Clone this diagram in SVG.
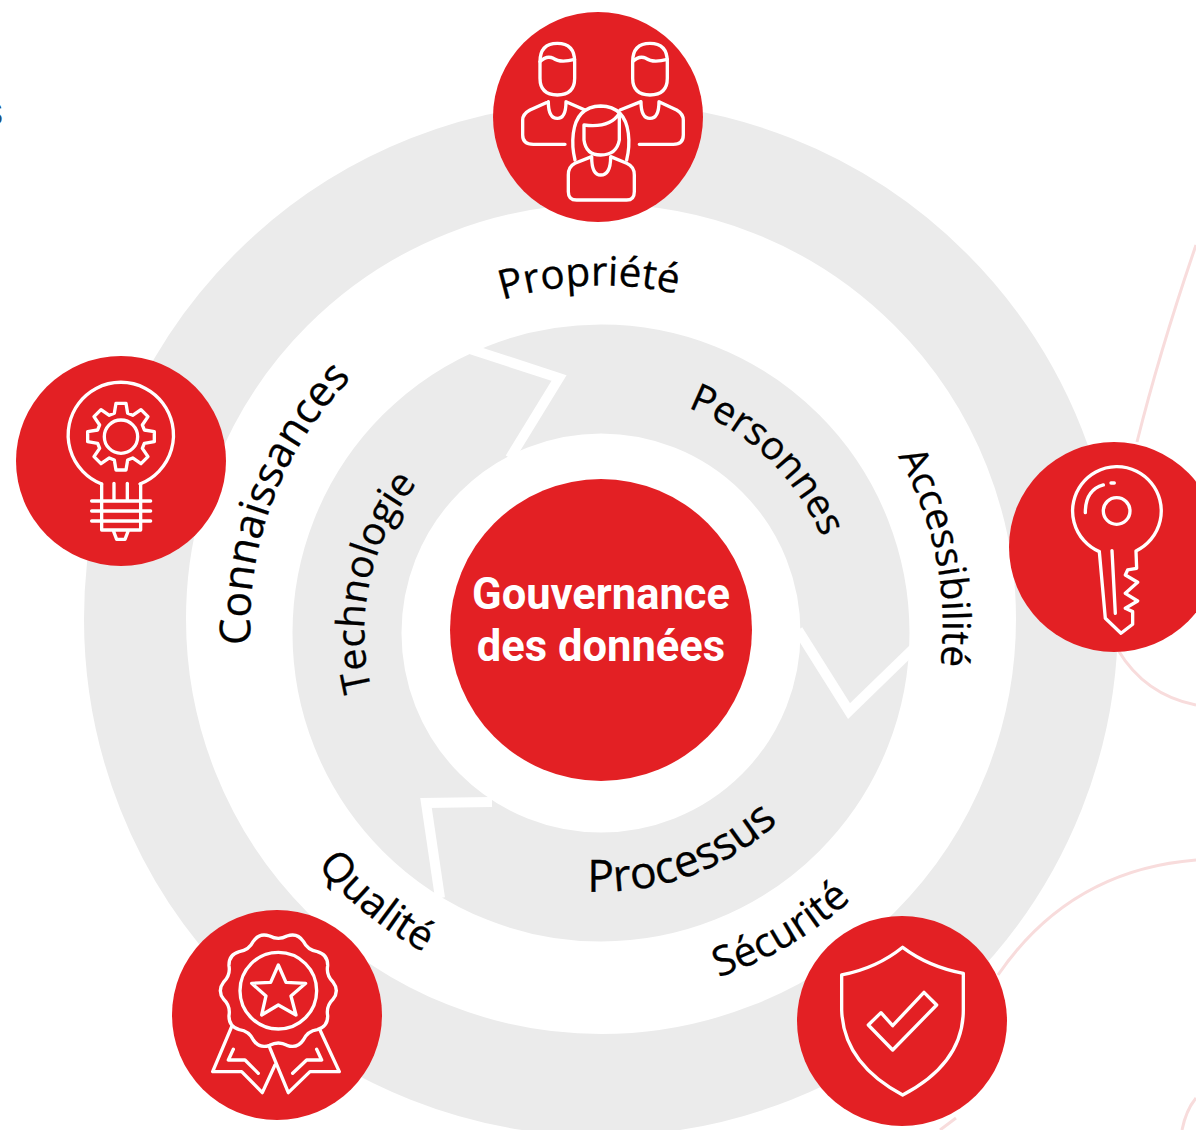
<svg xmlns="http://www.w3.org/2000/svg" width="1196" height="1130" viewBox="0 0 1196 1130">
<style>
.disc{fill:#e32024}
.ic{fill:none;stroke:#fff;stroke-width:10;stroke-linecap:round;stroke-linejoin:round}
.lab{font-family:"Open Sans","Noto Sans",sans-serif;font-size:41px;fill:#000;text-anchor:middle;stroke:#000;stroke-width:.3}
.in{font-size:39px}
.pink{fill:none;stroke:#f8dcdc;stroke-width:3}
.chev{fill:none;stroke:#fff;stroke-width:10;stroke-linejoin:miter}
.ctr{font-family:Roboto,"Liberation Sans",sans-serif;font-weight:700;font-size:43.5px;fill:#fff;text-anchor:middle}
</style>
<defs>
<path id="p1" d="M301 465A340 340 0 0 1 889 445"/>
<path id="p2" d="M325 841A350 350 0 0 1 552 278"/>
<path id="p3" d="M711 303A340 340 0 0 1 828 880"/>
<path id="p4" d="M421 950A372 372 0 0 0 973 619"/>
<path id="p5" d="M233 570A372 372 0 0 0 738 971"/>
<path id="p6" d="M535 401A240 240 0 0 1 834 690"/>
<path id="p7" d="M440 805A236 236 0 0 1 532 406"/>
<path id="p8" d="M434 831A260 260 0 0 0 857 677"/>
</defs>
<rect width="1196" height="1130" fill="#fff"/>
<text x="-17" y="125" font-family="'Liberation Sans',sans-serif" font-size="40" fill="#1f4e79">s</text>
<g id="decor">
<path class="pink" d="M1137 442Q1160 350 1196 245"/>
<path class="pink" d="M1118 650Q1145 695 1196 705"/>
<path class="pink" d="M998 975Q1070 870 1196 860"/>
<path class="pink" d="M940 1130L956 1118"/>
<path class="pink" d="M1182 1130Q1186 1110 1196 1098"/>
</g>
<g id="rings">
<circle cx="601" cy="619" r="466" fill="none" stroke="#ebebeb" stroke-width="102"/>
<circle cx="601" cy="633" r="254" fill="none" stroke="#ebebeb" stroke-width="109"/>
</g>
<g id="connectors">
<path class="chev" d="M470 349L559 378L510 458"/>
<path class="chev" d="M798 630L849 711L914 648"/>
<path class="chev" d="M492 802L426 803L440 898"/>
</g>
<g id="labels">
<text class="lab" style="font-size:40.5px"><textPath href="#p1" startOffset="50%">Propriété</textPath></text>
<text class="lab" style="font-size:42.5px"><textPath href="#p2" startOffset="49%">Connaissances</textPath></text>
<text class="lab" style="font-size:38.5px"><textPath href="#p3" startOffset="50%">Accessibilité</textPath></text>
<text class="lab"><textPath href="#p4" startOffset="49.5%">Sécurité</textPath></text>
<text class="lab"><textPath href="#p5" startOffset="49.5%">Qualité</textPath></text>
<text class="lab in"><textPath href="#p6" startOffset="50%">Personnes</textPath></text>
<text class="lab in"><textPath href="#p7" startOffset="49.5%">Technologie</textPath></text>
<text class="lab in" style="font-size:44.5px"><textPath href="#p8" startOffset="50%">Processus</textPath></text>
</g>
<g id="centre">
<circle class="disc" cx="601" cy="630" r="151"/>
<text class="ctr" x="601" y="609">Gouvernance</text>
<text class="ctr" x="601" y="661">des données</text>
</g>
<g id="node-propriete">
<circle class="disc" cx="598" cy="117" r="105"/>
<g transform="translate(480 0) scale(.3333)" class="ic">
<path d="M180 185Q180 130 232 130Q284 130 284 185L284 235Q284 285 232 285Q180 285 180 235Z"/>
<path d="M180 185Q200 165 220 175Q240 190 284 178"/>
<path d="M205 305Q205 355 232 355Q258 355 258 305L315 330M205 305L150 330Q128 342 128 360L128 405Q128 433 160 433L255 433"/>
<path d="M458 185Q458 130 510 130Q562 130 562 185L562 235Q562 285 510 285Q458 285 458 235Z"/>
<path d="M458 185Q478 165 498 175Q518 190 562 178"/>
<path d="M483 305Q483 355 510 355Q537 355 537 305L590 330Q610 342 610 360L610 405Q610 433 580 433L478 433M483 305L420 330"/>
<path d="M285 480Q275 440 280 400Q290 320 362 318Q435 320 445 400Q450 440 440 480"/>
<path d="M312 375Q390 385 418 340L418 420Q410 465 362 465Q318 465 312 420Z"/>
<path d="M335 470Q335 525 362 525Q392 525 392 470L440 490Q463 500 463 525L463 575Q463 600 440 600L290 600Q265 600 265 575L265 525Q265 500 285 490Z"/>
</g>
</g>
<g id="node-connaissances">
<circle class="disc" cx="121" cy="461" r="105"/>
<g transform="translate(0 340) scale(.3333)" class="ic">
<path d="M305 432A158 158 0 1 1 420 432"/>
<path d="M305 432L305 570L422 570L422 432M342 430V480M382 430V480M275 483H452M275 513H452M275 543H452M340 572L350 598L375 598L385 572"/>
<circle cx="363" cy="290" r="50"/>
<polygon transform="translate(363 290)" points="-20,-70 -15,-100 15,-100 20,-70 35,-64 60,-81 81,-60 64,-35 70,-20 100,-15 100,15 70,20 64,35 81,60 60,81 35,64 20,70 15,100 -15,100 -20,70 -35,64 -60,81 -81,60 -64,35 -70,20 -100,15 -100,-15 -70,-20 -64,-35 -81,-60 -60,-81 -35,-64"/>
</g>
</g>
<g id="node-accessibilite">
<circle class="disc" cx="1114" cy="547" r="105"/>
<g transform="translate(996 220) scale(.3333)" class="ic">
<path d="M310 995A133 133 0 1 1 420 993L422 1045L395 1050L388 1065L425 1087L388 1120L425 1143L388 1165L410 1175L410 1213L375 1240L328 1195L310 995"/>
<path d="M348 992L358 1180M268 878Q268 810 322 795M345 789L355 789"/>
<circle cx="362" cy="873" r="40"/>
</g>
</g>
<g id="node-qualite">
<circle class="disc" cx="277" cy="1015" r="105"/>
<g transform="translate(160 900) scale(.3333)" class="ic">
<path d="M329 108Q355 122 381 108Q412 97 430 124Q443 151 472 155Q504 164 503 197Q498 226 519 246Q539 272 519 298Q498 318 503 347Q504 380 472 389Q443 393 430 420Q412 447 381 436Q355 422 329 436Q298 447 280 420Q267 393 238 389Q206 380 207 347Q212 318 191 298Q171 272 191 246Q212 226 207 197Q206 164 238 155Q267 151 280 124Q298 97 329 108Z"/>
<circle cx="355" cy="272" r="115"/>
<path d="M355 195L378 247L437 250L393 288L408 345L355 315L305 345L318 288L275 250L332 247Z"/>
<path d="M215 380L158 515L245 515L307 578L345 495M220 448L205 480L255 480L295 520M480 390L538 515L450 515L385 578L328 440M470 448L485 480L440 480L398 520"/>
</g>
</g>
<g id="node-securite">
<circle class="disc" cx="902" cy="1021" r="105"/>
<g transform="translate(780 850) scale(.3333)" class="ic">
<path d="M368 292Q290 355 185 375L185 480Q190 640 368 735Q550 640 550 480L550 370Q445 350 368 292Z"/>
<path d="M338 600L265 525L303 488L338 527L432 427L470 465Z"/>
</g>
</g>
</svg>
